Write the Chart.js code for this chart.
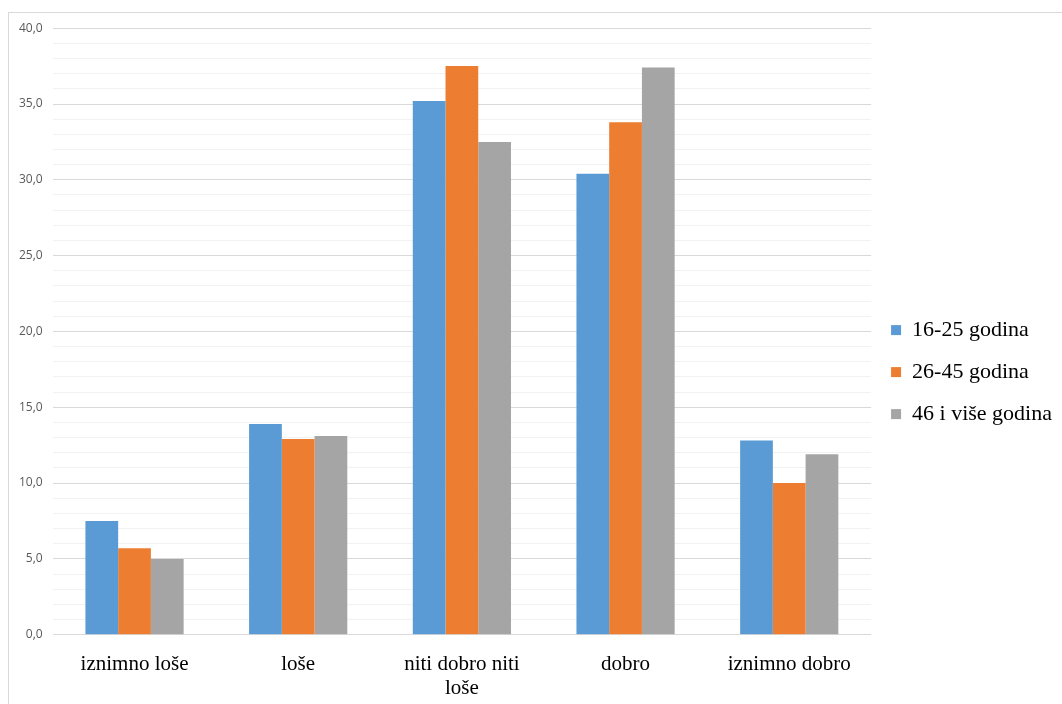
<!DOCTYPE html>
<html>
<head>
<meta charset="utf-8">
<script src="https://cdn.jsdelivr.net/npm/chart.js@4.4.0/dist/chart.umd.min.js"></script>
<style>
  html, body { margin: 0; padding: 0; background: #fff; overflow: hidden; }
  #frame { position: absolute; left: 8px; top: 12px; width: 1070px; height: 710px; border: 1px solid #d9d9d9; }
  #wrap { position: absolute; left: 9px; top: 11px; width: 1053px; height: 693px; }
</style>
</head>
<body>
<div id="frame"></div>
<div id="wrap"><canvas id="chart"></canvas></div>
<script>
// Categories (x axis); a nested array wraps onto two lines
const CATEGORIES = ['iznimno loše', 'loše', ['niti dobro niti', 'loše'], 'dobro', 'iznimno dobro'];

// Series
const SERIES_NAMES = ['16-25 godina', '26-45 godina', '46 i više godina'];
const AGE_16_25 = [7.5, 13.9, 35.2, 30.4, 12.8];
const AGE_26_45 = [5.7, 12.9, 37.5, 33.8, 10.0];
const AGE_46_UP = [5.0, 13.1, 32.5, 37.4, 11.9];

// Y axis
const Y_MIN = 0;
const Y_MAX = 40;
const Y_MAJOR = 5;   // labelled ticks
const Y_MINOR = 1;   // faint gridlines

const COLORS = ['#5b9bd5', '#ed7d31', '#a5a5a5'];

const series = [AGE_16_25, AGE_26_45, AGE_46_UP];

new Chart(document.getElementById('chart').getContext('2d'), {
  type: 'bar',
  data: {
    labels: CATEGORIES,
    datasets: series.map((data, i) => ({
      label: SERIES_NAMES[i],
      data,
      backgroundColor: COLORS[i],
      borderWidth: 0,
      categoryPercentage: 0.6,
      barPercentage: 1.0,
    }))
  },
  options: {
    responsive: true,
    maintainAspectRatio: false,
    animation: false,
    // negative bottom: the second line of the middle label runs to the frame edge
    layout: { padding: { left: 0, top: 3, right: 0, bottom: -15 } },
    plugins: {
      tooltip: { enabled: false },
      legend: {
        position: 'right',
        // blank title only nudges the items down a little
        title: { display: true, text: ' ', font: { size: 1 }, padding: { top: 5, bottom: 5 } },
        labels: {
          boxWidth: 10,
          boxHeight: 10,
          padding: 20,
          color: '#000',
          font: { family: 'Liberation Serif', size: 22 }
        }
      }
    },
    scales: {
      x: {
        grid: { display: false, drawTicks: false },
        border: { display: false },
        ticks: {
          color: '#000',
          font: { family: 'Liberation Serif', size: 21, lineHeight: 1.15 },
          maxRotation: 0,
          autoSkip: false,
          padding: 18
        }
      },
      y: {
        min: Y_MIN,
        max: Y_MAX,
        border: { display: false },
        grid: {
          drawTicks: false,
          color: ctx => (ctx.tick && ctx.tick.value % Y_MAJOR === 0) ? '#d9d9d9' : '#f2f2f2'
        },
        ticks: {
          stepSize: Y_MINOR,
          autoSkip: false,
          padding: 10,
          color: '#595959',
          font: { family: 'Open Sans', size: 12 },
          callback: v => v % Y_MAJOR === 0 ? v.toFixed(1).replace('.', ',') : ''
        }
      }
    }
  }
});
</script>
</body>
</html>
